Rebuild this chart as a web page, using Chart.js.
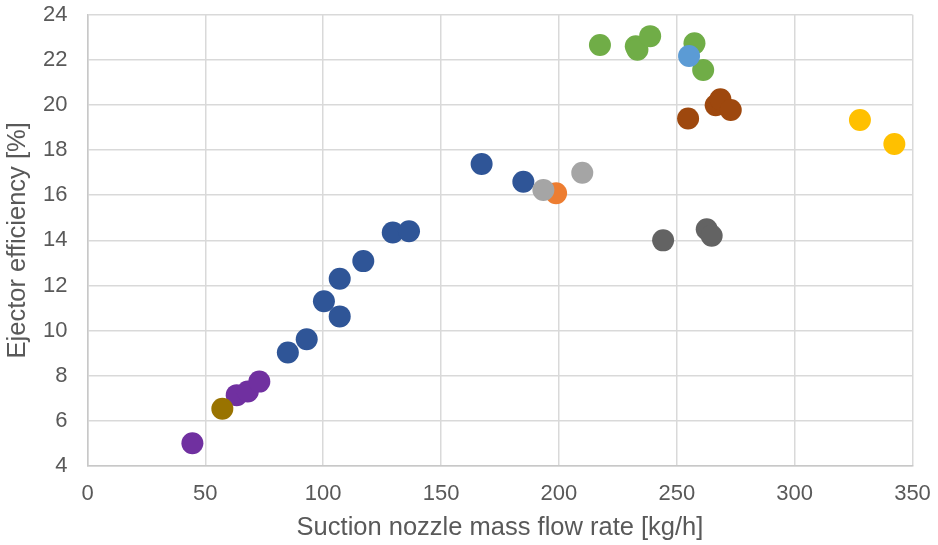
<!DOCTYPE html>
<html>
<head>
<meta charset="utf-8">
<script src="https://cdn.jsdelivr.net/npm/chart.js@4.4.0/dist/chart.umd.min.js"></script>
<style>
  html, body { margin: 0; padding: 0; background: #fff; }
  #wrap { width: 938px; height: 545px; }
</style>
</head>
<body>
<div id="wrap"><canvas id="chart" width="938" height="545"></canvas></div>
<script>
// values, one series per marker colour
const xTicks = [0, 50, 100, 150, 200, 250, 300, 350];
const yTicks = [4, 6, 8, 10, 12, 14, 16, 18, 20, 22, 24];

const navyX = [167.2, 184.9, 129.5, 136.4, 117.0, 107.0, 100.3, 107.0, 93.0, 85.0];
const navyY = [17.38, 16.6, 14.35, 14.4, 13.08, 12.3, 11.3, 10.63, 9.62, 9.03];

const greenX = [217.4, 232.6, 233.3, 238.7, 257.5, 261.2];
const greenY = [22.66, 22.6, 22.45, 23.05, 22.73, 21.55];

const lightBlueX = [255.2];
const lightBlueY = [22.17];

const brownX = [254.8, 266.5, 268.5, 272.9];
const brownY = [19.4, 19.99, 20.25, 19.78];

const goldX = [327.7, 342.3];
const goldY = [19.33, 18.27];

const grayX = [193.4, 209.9];
const grayY = [16.23, 17.0];

const orangeX = [198.8];
const orangeY = [16.09];

const darkGrayX = [244.2, 262.7, 264.8];
const darkGrayY = [14.0, 14.49, 14.2];

const purpleX = [44.5, 63.3, 68.0, 72.9];
const purpleY = [5.01, 7.14, 7.3, 7.74];

const oliveX = [57.2];
const oliveY = [6.54];

const toPoints = (xs, ys) => xs.map((x, i) => ({ x: x, y: ys[i] }));

// first entry is drawn on top
const series = [
    { label: 'light blue', xs: lightBlueX, ys: lightBlueY, color: '#5B9BD5' },
    { label: 'gray', xs: grayX, ys: grayY, color: '#A5A5A5' },
    { label: 'orange', xs: orangeX, ys: orangeY, color: '#ED7D31' },
    { label: 'green', xs: greenX, ys: greenY, color: '#70AD47' },
    { label: 'brown', xs: brownX, ys: brownY, color: '#9E480E' },
    { label: 'gold', xs: goldX, ys: goldY, color: '#FFC000' },
    { label: 'dark gray', xs: darkGrayX, ys: darkGrayY, color: '#636363' },
    { label: 'navy', xs: navyX, ys: navyY, color: '#2F5597' },
    { label: 'olive', xs: oliveX, ys: oliveY, color: '#997300' },
    { label: 'purple', xs: purpleX, ys: purpleY, color: '#7030A0' }
];

const tickFont = { family: 'Liberation Sans, Arial, sans-serif', size: 22 };
const titleFont = { family: 'Liberation Sans, Arial, sans-serif', size: 25.5 };

new Chart(document.getElementById('chart'), {
    type: 'scatter',
    data: {
        datasets: series.map(s => ({
            label: s.label,
            data: toPoints(s.xs, s.ys),
            backgroundColor: s.color,
            borderColor: s.color,
            borderWidth: 0,
            pointRadius: 11,
            pointHoverRadius: 11
        }))
    },
    options: {
        responsive: false,
        animation: false,
        layout: { padding: { top: 0, right: 25.5, left: 0, bottom: 0 } },
        plugins: {
            legend: { display: false },
            tooltip: { enabled: false }
        },
        scales: {
            x: {
                type: 'linear',
                min: 0,
                max: 350,
                afterBuildTicks: axis => { axis.ticks = xTicks.map(v => ({ value: v })); },
                grid: { color: '#D9D9D9', lineWidth: 1.5, drawTicks: true, tickLength: 12, tickColor: 'rgba(0,0,0,0)' },
                border: { color: '#C8C8C8', width: 1.5 },
                ticks: { color: '#595959', font: tickFont, padding: 3, maxRotation: 0 },
                title: {
                    display: true,
                    text: 'Suction nozzle mass flow rate [kg/h]',
                    color: '#595959',
                    font: titleFont,
                    padding: { top: 0, bottom: 2 }
                },
                afterFit: axis => { axis.height = 79; }
            },
            y: {
                type: 'linear',
                min: 4,
                max: 24,
                afterBuildTicks: axis => { axis.ticks = yTicks.map(v => ({ value: v })); },
                grid: { color: '#D9D9D9', lineWidth: 1.5, drawTicks: true, tickLength: 18.5, tickColor: 'rgba(0,0,0,0)' },
                border: { color: '#C8C8C8', width: 1.5 },
                ticks: { color: '#595959', font: tickFont, padding: 1.5 },
                title: {
                    display: true,
                    text: 'Ejector efficiency [%]',
                    color: '#595959',
                    font: titleFont,
                    padding: { top: 3, bottom: 0 }
                },
                afterFit: axis => { axis.width = 87.5; }
            }
        }
    }
});
</script>
</body>
</html>
